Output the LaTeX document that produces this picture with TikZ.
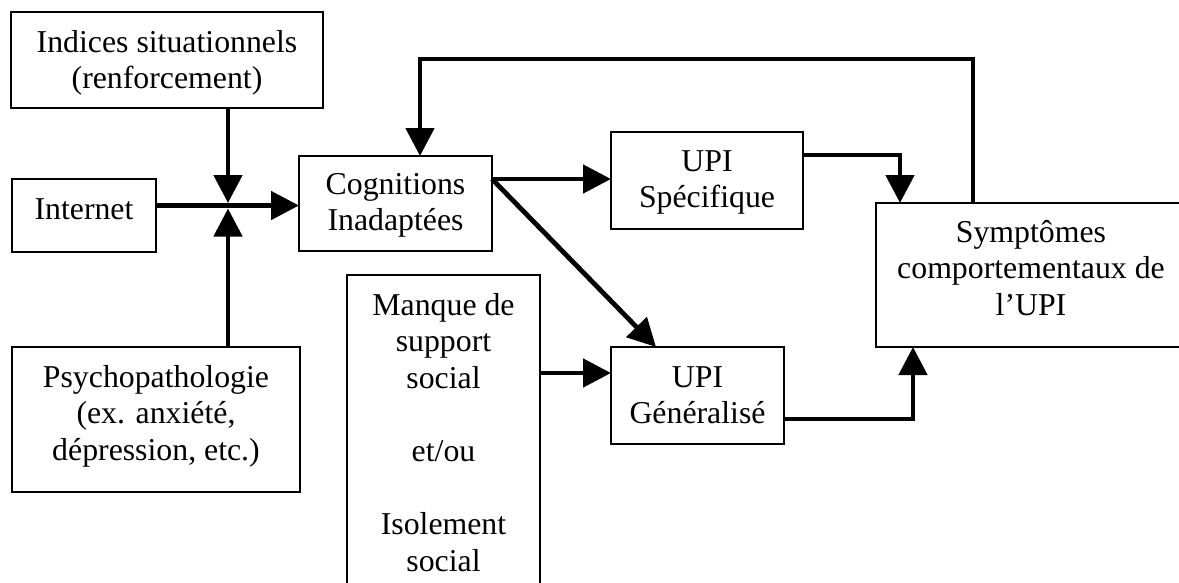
\documentclass[tikz,border=0pt]{standalone}
\usepackage{fontspec}
\setmainfont{Liberation Serif}
\usetikzlibrary{arrows.meta,calc}
\tikzset{
  box/.style={draw=black, line width=1.4pt, inner sep=0pt, outer sep=0pt, rectangle},
  lbl/.style={align=center, inner sep=0pt, outer sep=0pt, anchor=north, font=\fontsize{31.8}{36.6}\selectfont},
  arr/.style={line width=4.8pt, line join=miter, -{Triangle[length=28pt,width=28pt]}},
}
\begin{document}
\begin{tikzpicture}[x=1pt,y=-1pt]
\fill[white] (0,0) rectangle (1179,582);
\useasboundingbox (0,0) rectangle (1179,582);
\clip (0,0) rectangle (1179,582);

% boxes
\node[box, minimum width=312pt, minimum height=96pt]  (ind)  at (167,60) {};
\node[box, minimum width=144pt, minimum height=73pt]  (inet) at (84,215.5) {};
\node[box, minimum width=193pt, minimum height=95pt]  (cog)  at (395.5,203.5) {};
\node[box, minimum width=288pt, minimum height=145pt] (psy)  at (156,419.5) {};
\node[box, minimum width=192pt, minimum height=97pt]  (spe)  at (707,180.5) {};
\node[box, minimum width=173pt, minimum height=97pt]  (gen)  at (697.5,395.5) {};
\node[box, minimum width=193pt, minimum height=335pt] (man)  at (443.5,442.5) {};
\node[box, minimum width=310pt, minimum height=144pt] (sym)  at (1031,275) {};

% texts
\node[lbl] (indT)  at (167,26.4)   {\strut Indices situationnels\\(renforcement)};
\node[lbl] (inetT) at (84,193.4)   {\strut Internet};
\node[lbl] (cogT)  at (395.5,168.4) {\strut Cognitions\\Inadaptées};
\node[lbl] (speT)  at (707,145.4)  {\strut UPI\\Spécifique};
\node[lbl] (psyT)  at (156,361.4)  {\strut Psychopathologie\\(ex. anxiété,\\dépression, etc.)};
\node[lbl] (manT)  at (443.5,289.4) {\strut Manque de\\support\\social\\[36.6pt]et/ou\\[36.6pt]Isolement\\social};
\node[lbl] (genT)  at (697.5,361.4) {\strut UPI\\Généralisé};
\node[lbl] (symT)  at (1031,216.4) {\strut Symptômes\\comportementaux de\\l’UPI};

% helper coordinates
\coordinate (J) at (228,205.5);
\coordinate (cogout) at (492,179);
\coordinate (fbk) at (420,59);

% connectors
\draw[arr] (ind.south -| J) -- ([shift={(0,-2.5)}]J);
\draw[arr] (psy.north -| J) -- ([shift={(0,3)}]J);
\draw[arr] (inet.east |- J) -- (cog.west |- J);
\draw[arr] (cogout) -- (spe.west |- cogout);
\draw[arr] (cogout) -- ([shift={(-41.5,0)}]gen.north);
\draw[arr] ([shift={(0,-22.5)}]gen.west -| man.east) -- ([shift={(0,-22.5)}]gen.west);
\draw[arr] ([shift={(0,-25.5)}]spe.east) -| ([shift={(24,0)}]sym.north west);
\draw[arr] ([shift={(0,23.5)}]gen.east) -| ([shift={(37,0)}]sym.south west);
\draw[arr] ([shift={(97,0)}]sym.north west) |- (fbk) -- (fbk |- cog.north);
\end{tikzpicture}
\end{document}
